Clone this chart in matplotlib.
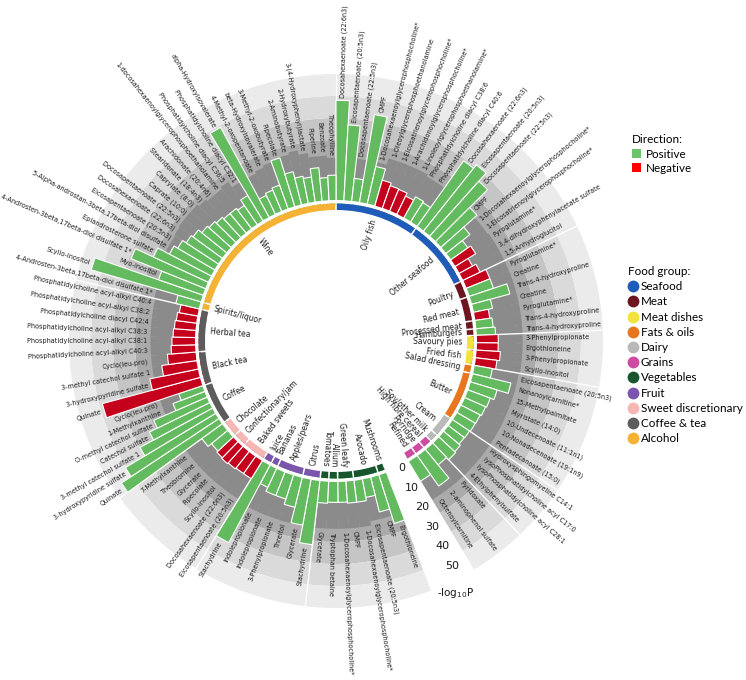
import numpy as np
import matplotlib
matplotlib.use("Agg")
import matplotlib.pyplot as plt
from matplotlib.lines import Line2D
from matplotlib.patches import Patch

# ---------------- data ----------------
group_names = ["Seafood", "Meat", "Meat dishes", "Fats & oils", "Dairy", "Grains",
               "Vegetables", "Fruit", "Sweet discretionary", "Coffee & tea", "Alcohol"]
group_colors = ["#1f5bb8", "#6e1420", "#f2e23c", "#e8761e", "#b9b9b9", "#cf4aa2",
                "#17562d", "#7b54ad", "#f6b6b4", "#5c5c5c", "#f5b234"]

food_names = ["Oily fish", "Other seafood", "Poultry", "Red meat", "Processed meat", "Hamburgers",
              "Savoury pies", "Fried fish", "Salad dressing", "Butter", "Cream", "Soy/other milk",
              "High fibre cereal", "Porridge", "Refined",
              "Mushrooms", "Avocado", "Green leafy", "Allium", "Tomatoes", "Citrus", "Apples/pears",
              "Bananas", "Juice", "Baked sweets", "Confectionary/jam", "Chocolate", "Coffee",
              "Black tea", "Herbal tea", "Spirits/liquor", "Wine"]
food_group = ["Seafood", "Seafood", "Meat", "Meat", "Meat", "Meat",
              "Meat dishes", "Meat dishes", "Fats & oils", "Fats & oils", "Dairy", "Dairy",
              "Grains", "Grains", "Grains",
              "Vegetables", "Vegetables", "Vegetables", "Vegetables", "Vegetables", "Fruit", "Fruit",
              "Fruit", "Fruit", "Sweet discretionary", "Sweet discretionary", "Sweet discretionary",
              "Coffee & tea", "Coffee & tea", "Coffee & tea", "Alcohol", "Alcohol"]
food_nbars = [11, 9, 2, 3, 1, 1, 2, 2, 1, 6, 3, 1, 1, 1, 1,
              1, 3, 2, 1, 1, 2, 3, 1, 1, 3, 2, 2, 7, 4, 6, 1, 26]

metabolites = [
    # Oily fish
    "Docosahexaenoate (22:6n3)", "Eicosapentaenoate (20:5n3)", "Docosapentaenoate (22:5n3)", "CMPF",
    "1-Docosahexaenoylglycerophosphocholine*", "1-Oleoylglycerophosphoethanolamine",
    "1-Eicosatrienoylglycerophosphocholine*", "1-Arachidonoylglycerophosphocholine*",
    "1-Linoleoylglycerophosphoethanolamine*", "Phosphatidylcholine diacyl C38:6",
    "Phosphatidylcholine diacyl C40:6",
    # Other seafood
    "Docosahexaenoate (22:6n3)", "Eicosapentaenoate (20:5n3)", "Docosapentaenoate (22:5n3)", "CMPF",
    "1-Docosahexaenoylglycerophosphocholine*", "1-Eicosatrienoylglycerophosphocholine*",
    "Pyroglutamine*", "3,4-dihydroxyphenylacetate sulfate", "1,5-Anhydroglucitol",
    # Poultry, Red meat, Processed meat, Hamburgers
    "Pyroglutamine*", "Creatine",
    "Trans-4-hydroxyproline", "Creatine", "Pyroglutamine*",
    "Trans-4-hydroxyproline", "Trans-4-hydroxyproline",
    # Savoury pies, Fried fish, Salad dressing
    "3-Phenylpropionate", "Ergothioneine", "3-Phenylpropionate", "Scyllo-inositol",
    "Eicosapentaenoate (20:5n3)",
    # Butter
    "Nonanoylcarnitine*", "15-Methylpalmitate", "Myristate (14:0)", "10-Undecenoate (11:1n1)",
    "10-Nonadecenoate (19:1n9)", "Pentadecanoate (15:0)",
    # Cream, Soy/other milk
    "Hydroxysphingomyeline C14:1", "lysoPhosphatidylcholine acyl C17:0",
    "lysoPhosphatidylcholine acyl C28:1", "4-Ethylphenylsulfate",
    # Grains
    "Pyridoxate", "2-aminophenol sulfate", "Octenoylcarnitine",
    # Vegetables
    "Ergothioneine", "CMPF", "Eicosapentaenoate (20:5n3)", "1-Docosahexaenoylglycerophosphocholine*",
    "CMPF", "1-Docosahexaenoylglycerophosphocholine*", "Tryptophan betaine", "Glycerate",
    # Fruit
    "Stachydrine", "Glycerate", "Threitol", "3-Phenylpropionate", "Indolepropionate",
    "Indolepropionate", "Stachydrine",
    # Sweet discretionary
    "Eicosapentaenoate (20:5n3)", "Docosahexaenoate (22:6n3)", "Scyllo-inositol", "Pipecolate",
    "Glycerate", "Theobromine", "7-Methylxanthine",
    # Coffee
    "Quinate", "3-hydroxypyridine sulfate", "3-methyl catechol sulfate 1", "Catechol sulfate",
    "O-methyl catechol sulfate", "1-Methylxanthine", "Cyclo(leu-pro)",
    # Black tea
    "Quinate", "3-hydroxypyridine sulfate", "3-methyl catechol sulfate 1", "Cyclo(leu-pro)",
    # Herbal tea
    "Phosphatidylcholine acyl-alkyl C40:3", "Phosphatidylcholine acyl-alkyl C38:1",
    "Phosphatidylcholine acyl-alkyl C38:3", "Phosphatidylcholine diacyl C42:4",
    "Phosphatidylcholine acyl-alkyl C38:2", "Phosphatidylcholine acyl-alkyl C40:4",
    # Spirits/liquor
    "4-Androsten-3beta,17beta-diol disulfate 1*",
    # Wine
    "Scyllo-inositol", "Myo-inositol", "4-Androsten-3beta,17beta-diol disulfate 1*",
    "Epiandrosterone sulfate", "5-Alpha-androstan-3beta,17beta-diol disulfate",
    "Eicosapentaenoate (20:5n3)", "Docosahexaenoate (22:6n3)", "Docosapentaenoate (22:5n3)",
    "Caprate (10:0)", "Caprylate (8:0)", "Stearidonate (18:4n3)", "Arachidonate (20:4n6)",
    "1-docosahexaenoylglycerophosphoethanolamine", "Phosphatidylcholine diacyl C36:5",
    "Phosphatidylcholine diacyl C32:1", "alpha-Hydroxyisovalerate", "4-Methyl-2-oxopentanoate",
    "beta-Hydroxyisovalerate", "3-Methyl-2-oxobutyrate", "Pipecolate", "2-Aminobutyrate",
    "2-Hydroxybutyrate", "3-(4-Hydroxyphenyl)lactate", "Piperine", "Benzoate", "Theophylline",
]

direction = list(
    "PPPPPNNNNPP"        # oily fish
    "PPPPPPNNN"          # other seafood
    "NPPPNPP"            # meat
    "NNNNP"              # meat dishes, salad dressing
    "PPPPPP"             # butter
    "PPPP"               # dairy
    "PPP"                # grains
    "PPPPPPPP"           # vegetables
    "PPPPPPP"            # fruit
    "NNNNNPP"            # sweets
    "PPPPPPP"            # coffee
    "NNNN"               # black tea
    "NNNNNN"             # herbal tea
    "P"                  # spirits
    "PPPPPPPPPPPPPPPPPPPPPPPPPP"  # wine
)

# -log10 P of each association (bar length)
neglog10p = [
    48, 37, 13, 43, 20, 14.7, 13.4, 13.2, 11.7, 13.5, 12.9,
    39, 41, 36, 24.5, 16.4, 12, 13.5, 9.4, 11.2,
    14.1, 14.1, 20.5, 11.3, 9.3, 10.3, 11.2,
    12.4, 12.4, 13.5, 12.3, 10.8,
    20.4, 15.2, 13.4, 12.9, 12.3, 12.2,
    11.8, 11.6, 12.4, 13,
    11.6, 19.4, 13,
    25.7, 18.8, 11, 12.5, 12.5, 12, 12, 12.5,
    31.8, 23.7, 16.5, 14, 14, 12, 42.5,
    12.1, 12.1, 12.6, 13.1, 12.7, 12, 14,
    55.6, 50.3, 40, 33, 29, 18, 14,
    48.6, 25, 18.6, 15.5,
    13.6, 13.2, 12.7, 12.3, 11.8, 11,
    13.4,
    54.5, 24, 39, 30, 24, 22, 20, 19, 17, 16, 15, 14, 14, 13, 16, 49, 12, 13, 14, 25.7, 18, 15, 14, 17.8, 13, 14,
]
# grey background bar behind each association
shadow = [
    22, 22, 22, 22, 22, 25, 25, 25, 25, 24, 24,
    22, 22, 22, 22, 23, 23, 23.5, 23.5, 23.5,
    23.5, 23.5, 23.5, 23.5, 23.5, 23.5, 23.5,
    23.5, 23.5, 23.5, 23.5, 23,
    23, 23, 23, 23, 23, 23,
    23, 23, 23, 23,
    23, 23, 23,
    22, 22, 22, 24, 24, 24, 24, 24,
    24, 24, 24, 24, 24, 24, 24,
    23, 23, 23, 23, 23, 23, 23,
    23, 23, 23, 23, 23, 23, 23,
    23, 23, 23, 23,
    23, 23, 23, 23, 23, 23,
    23.5,
    23, 23, 26, 24, 26, 26, 26.5, 27, 27, 27, 26, 25, 25, 26, 23, 23, 23, 24, 25, 24, 26, 27, 25, 23, 23, 22,
]

scale_ticks = [0, 10, 20, 30, 40, 50]

# ---------------- layout ----------------
W, H = 746, 680
CX, CY = 336, 341          # centre in px
PXU = 2.2                  # px per -log10P unit
R_ZERO = 135               # px radius of value 0
RA = 330                   # axes radius in px
# angular extent (compass degrees) of each food segment
FOOD_SPAN = [(0, 35.3), (35.3, 64.5), (64.5, 71.5), (71.5, 81.6), (81.6, 85), (85, 87.7),
             (87.7, 93.7), (93.7, 100), (100, 103.5), (103.5, 124), (124, 133), (133, 136.5),
             (136.5, 140.5), (140.5, 144.7), (144.7, 149),
             (159, 162.3), (162.3, 172.7), (172.7, 179.3), (179.3, 183), (183, 186.6),
             (186.6, 193.9), (193.9, 205), (205, 208), (208, 211.6), (211.6, 221.5),
             (221.5, 227), (227, 234), (234, 251.5), (251.5, 265.5), (265.5, 283.2),
             (283.2, 286.2), (286.2, 360)]

def u(px):
    return (px - R_ZERO) / PXU

theta_deg, width_deg = [], []
for (a, b), nb in zip(FOOD_SPAN, food_nbars):
    d = (b - a) / nb
    for i in range(nb):
        theta_deg.append(a + d * (i + 0.5))
        width_deg.append(d)
theta = np.radians(theta_deg)
width = np.radians(width_deg)

POS, NEG = "#63ba5f", "#c4001c"
SHADOW = "#8b8b8b"

plt.rcParams["font.family"] = ["DejaVu Sans"]
fig = plt.figure(figsize=(W / 100, H / 100), dpi=100)
ax = fig.add_axes([(CX - RA) / W, (H - CY - RA) / H, 2 * RA / W, 2 * RA / H], projection="polar")
ax.set_theta_zero_location("N")
ax.set_theta_direction(-1)
ax.set_ylim(u(0), u(RA))
ax.set_axis_off()

# background bands (concentric)
band_edges = [0, 20, 30, 40, 50, 60]
band_cols = ["#8d8d8d", "#ababab", "#c5c5c5", "#dadada", "#ebebeb"]
arcs = [(0, 149), (159, 360)]
for a0, a1 in arcs:
    mid, wd = np.radians((a0 + a1) / 2), np.radians(a1 - a0)
    for lo, hi, c in zip(band_edges[:-1], band_edges[1:], band_cols):
        ax.bar(mid, hi - lo, bottom=lo, width=wd, color=c, edgecolor="none", zorder=1)

# grey background bars and coloured association bars
ax.bar(theta, shadow, bottom=0, width=width, color=SHADOW, edgecolor="none", zorder=2)
cols = [POS if d == "P" else NEG for d in direction]
ax.bar(theta, neglog10p, bottom=0, width=width, color=cols, edgecolor="white",
       linewidth=0.8, zorder=3)

# white separators between food groups
for i, (span, grp) in enumerate(zip(FOOD_SPAN, food_group)):
    if i == 0 or food_group[i - 1] != grp:
        ax.plot([np.radians(span[0])] * 2, [0, 60], color="white", lw=1.0, zorder=2.5)
ax.plot([np.radians(149)] * 2, [0, 60], color="white", lw=1.0, zorder=2.5)

# white annulus between ring and bars
ax.bar(np.pi, u(141) - u(137.5), bottom=u(137.5), width=2 * np.pi, color="white",
       edgecolor="none", zorder=4)

# food ring and labels
gcol = dict(zip(group_names, group_colors))
for (a, b), name, grp in zip(FOOD_SPAN, food_names, food_group):
    ax.bar(np.radians((a + b) / 2), u(137.5) - u(131), bottom=u(131),
           width=np.radians(b - a - 0.7), color=gcol[grp], edgecolor="none", zorder=5)
    tm = (a + b) / 2
    phi = 90 - tm
    if tm <= 186:
        rot, ha = phi, "right"
    else:
        rot, ha = phi + 180, "left"
    ax.text(np.radians(tm), u(126.5), name, rotation=rot, rotation_mode="anchor",
            ha=ha, va="center", fontsize=5.5, color="#1e1e1e", zorder=6)

# metabolite labels
for th, v, s, lab in zip(theta_deg, neglog10p, shadow, metabolites):
    r = max(v, s) + 1.4
    phi = 90 - th
    if th <= 186:
        rot, ha = phi, "left"
    else:
        rot, ha = phi + 180, "right"
    ax.text(np.radians(th), r, lab, rotation=rot, rotation_mode="anchor", ha=ha, va="center",
            fontsize=4.7, color="#1a1a1a", zorder=6)

# scale labels in the gap
for t in scale_ticks:
    ax.text(np.radians(152.6), t + 3.7, str(t), ha="center", va="center", fontsize=8,
            color="#1a1a1a", zorder=6)
ax.text(np.radians(154.7), u(278.7), r"-log$_{10}$P", ha="center", va="center", fontsize=7.5,
        color="#1a1a1a", zorder=6)

# legends
fs = 8.4
lfam = ["Lato", "DejaVu Sans"]
h1 = [Patch(facecolor="#6cc46a", edgecolor="none", label="Positive"),
      Patch(facecolor="#ff0000", edgecolor="none", label="Negative")]
leg1 = fig.legend(handles=h1, title="Direction:", loc="upper left",
                  bbox_to_anchor=(632 / W, 1 - 134 / H), frameon=False,
                  prop={"family": lfam, "size": fs}, title_fontproperties={"family": lfam, "size": fs},
                  handlelength=0.75, handleheight=0.8, handletextpad=0.45,
                  labelspacing=0.3, borderpad=0, borderaxespad=0)
leg1._legend_box.align = "left"
h2 = [Line2D([0], [0], marker="o", color="none", markerfacecolor=c, markeredgecolor="none",
             markersize=8.5, label=g) for g, c in zip(group_names, group_colors)]
leg2 = fig.legend(handles=h2, title="Food group:", loc="upper left",
                  bbox_to_anchor=(628 / W, 1 - 266 / H), frameon=False,
                  prop={"family": lfam, "size": fs}, title_fontproperties={"family": lfam, "size": fs},
                  handlelength=0.8, handletextpad=0.3,
                  labelspacing=0.36, borderpad=0, borderaxespad=0)
leg2._legend_box.align = "left"

fig.savefig("out.png", dpi=100)
